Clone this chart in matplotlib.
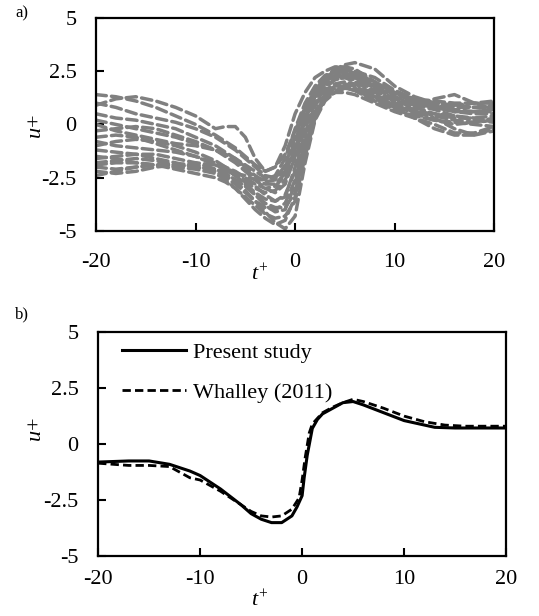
import matplotlib
matplotlib.use('Agg')
import matplotlib.pyplot as plt
import numpy as np

plt.rcParams['font.family'] = ['Liberation Serif', 'DejaVu Serif']
plt.rcParams['mathtext.fontset'] = 'custom'
plt.rcParams['mathtext.rm'] = 'Liberation Serif'
plt.rcParams['mathtext.it'] = 'Liberation Serif:italic'
plt.rcParams['axes.unicode_minus'] = False

# ---- panel a: individual events ----
t_events = [-20, -18, -16, -14, -12, -10, -8, -7, -6, -5, -4, -3, -2, -1,
            0, 1, 2, 3, 4, 5, 6, 8, 10, 12, 14, 16, 18, 20]
events = [
    [1.4, 1.3, 1.1, 0.8, 0.4, 0.0, -0.5, -0.8, -1.1, -1.5, -1.9, -2.2, -2.0, -1.0, 0.5, 1.5, 2.2, 2.5, 2.7, 2.7, 2.6, 2.0, 1.5, 1.1, 0.9, 0.8, 0.8, 0.9],
    [0.9, 1.2, 1.3, 1.1, 0.8, 0.4, -0.2, -0.1, -0.1, -0.6, -1.6, -2.2, -2.0, -1.4, -0.3, 0.8, 1.6, 2.1, 2.4, 2.5, 2.4, 2.0, 1.5, 1.1, 0.8, 0.6, 0.6, 0.7],
    [0.5, 0.3, 0.2, 0.0, -0.2, -0.6, -1.0, -1.3, -1.6, -2.0, -2.4, -2.7, -2.6, -1.9, -0.6, 0.7, 1.6, 2.2, 2.5, 2.6, 2.5, 2.2, 1.6, 1.2, 1.0, 0.9, 0.8, 0.8],
    [-0.3, -0.2, -0.1, -0.2, -0.5, -0.8, -1.2, -1.5, -1.8, -2.2, -2.6, -3.0, -3.2, -2.8, -1.5, 0.2, 1.4, 2.0, 2.3, 2.3, 2.2, 1.7, 1.2, 1.0, 0.8, 0.7, 0.6, 0.6],
    [-1.0, -0.8, -0.7, -0.8, -1.0, -1.3, -1.7, -2.0, -2.3, -2.6, -2.9, -3.3, -3.6, -3.4, -2.0, 0.0, 1.2, 1.8, 2.1, 2.2, 2.0, 1.5, 1.1, 0.9, 0.7, 0.4, 0.2, 0.1],
    [-1.6, -1.5, -1.4, -1.4, -1.6, -1.8, -2.1, -2.3, -2.6, -2.9, -3.3, -3.8, -4.1, -4.0, -2.8, -0.5, 0.9, 1.6, 1.9, 2.0, 1.9, 1.4, 1.0, 0.7, 0.4, 0.2, 0.1, 0.2],
    [-2.4, -2.2, -2.0, -1.9, -2.0, -2.1, -2.3, -2.6, -3.0, -3.5, -4.0, -4.4, -4.7, -4.5, -3.4, -1.0, 0.5, 1.3, 1.7, 1.8, 1.7, 1.3, 0.9, 0.5, 0.2, 0.0, 0.1, 0.3],
    [-2.0, -2.1, -2.0, -1.9, -1.9, -2.0, -2.2, -2.4, -2.7, -3.1, -3.6, -4.1, -4.6, -4.9, -4.3, -1.8, 0.2, 1.1, 1.5, 1.7, 1.6, 1.2, 0.8, 0.3, -0.2, -0.5, -0.5, -0.2],
    [-1.2, -1.3, -1.4, -1.6, -1.8, -2.0, -2.1, -2.2, -2.3, -2.4, -2.6, -2.8, -2.8, -2.3, -1.0, 0.5, 1.5, 2.1, 2.4, 2.5, 2.3, 1.8, 1.3, 1.0, 0.8, 0.9, 1.0, 1.0],
    [0.2, 0.0, -0.2, -0.4, -0.6, -0.9, -1.2, -1.4, -1.6, -1.9, -2.2, -2.5, -2.5, -2.0, -0.8, 0.6, 1.6, 2.2, 2.6, 2.8, 2.9, 2.6, 1.8, 1.3, 1.0, 0.9, 0.8, 0.7],
    [-0.6, -0.5, -0.6, -0.9, -1.2, -1.5, -1.9, -2.1, -2.4, -2.7, -3.0, -3.2, -3.1, -2.6, -1.6, -0.2, 1.0, 1.7, 2.1, 2.2, 2.1, 1.6, 1.1, 0.8, 0.5, 0.3, 0.3, 0.4],
    [-1.8, -1.7, -1.6, -1.7, -1.9, -2.0, -2.2, -2.5, -2.8, -3.2, -3.6, -3.9, -4.0, -3.7, -2.6, -0.8, 0.6, 1.4, 1.8, 1.9, 1.8, 1.3, 0.9, 0.6, 0.3, -0.2, -0.5, -0.3],
    [0.0, -0.3, -0.5, -0.7, -0.9, -1.0, -1.2, -1.4, -1.7, -2.1, -2.5, -2.6, -2.4, -1.6, -0.2, 1.0, 1.8, 2.3, 2.5, 2.6, 2.4, 1.9, 1.5, 1.2, 1.1, 1.0, 1.0, 1.1],
    [-1.5, -1.6, -1.8, -1.9, -1.9, -1.8, -1.9, -2.1, -2.4, -2.8, -3.2, -3.5, -3.6, -3.3, -2.2, -0.4, 0.9, 1.5, 1.8, 1.8, 1.6, 1.1, 0.8, 0.6, 0.5, 0.4, 0.3, 0.2],
    [-0.8, -1.0, -1.1, -1.2, -1.3, -1.5, -1.8, -2.0, -2.2, -2.5, -2.8, -3.0, -2.9, -2.4, -1.2, 0.3, 1.3, 1.9, 2.2, 2.3, 2.2, 1.7, 1.2, 0.9, 1.2, 1.4, 1.0, 0.7],
    [-2.2, -2.3, -2.2, -2.0, -1.9, -1.9, -2.1, -2.3, -2.6, -2.9, -3.3, -3.7, -3.9, -3.9, -3.2, -1.2, 0.4, 1.2, 1.5, 1.5, 1.4, 1.0, 0.6, 0.3, 0.0, -0.4, -0.4, -0.1],
    [1.0, 0.8, 0.5, 0.3, 0.1, -0.2, -0.6, -0.9, -1.2, -1.6, -2.0, -2.4, -2.5, -2.2, -1.2, 0.3, 1.4, 2.0, 2.3, 2.4, 2.3, 1.8, 1.4, 1.1, 0.8, 0.6, 0.5, 0.5],
    [-1.9, -1.8, -1.8, -1.9, -2.1, -2.3, -2.5, -2.7, -3.0, -3.4, -3.8, -4.2, -4.4, -4.3, -3.6, -1.5, 0.3, 1.2, 1.6, 1.7, 1.6, 1.1, 0.7, 0.4, 0.2, 0.1, 0.0, -0.1],
]

# ---- panel b: ensemble average vs. Whalley (2011) ----
t_present = [-20, -17, -15, -13, -11, -10, -8, -6, -5, -4, -3, -2, -1, -0.5,
             0, 0.2, 0.5, 1, 1.5, 2, 3, 4, 5, 6, 8, 10, 12, 13, 15, 20]
u_present = [-0.8, -0.75, -0.75, -0.9, -1.2, -1.4, -2.0, -2.7, -3.1, -3.35, -3.5, -3.5, -3.2, -2.8,
             -2.3, -1.5, -0.5, 0.7, 1.1, 1.35, 1.6, 1.85, 1.9, 1.75, 1.4, 1.05, 0.85, 0.75, 0.72, 0.72]
t_whalley = [-20, -17, -15, -13, -11, -10, -8, -6, -5, -4, -3, -2, -1, -0.3,
             0, 0.3, 0.7, 1, 2, 3, 4, 5, 6, 8, 10, 12, 14, 16, 20]
u_whalley = [-0.85, -0.95, -0.95, -1.0, -1.5, -1.6, -2.1, -2.7, -3.0, -3.2, -3.25, -3.2, -2.9, -2.4,
             -1.6, -0.6, 0.5, 0.9, 1.4, 1.65, 1.85, 2.0, 1.9, 1.6, 1.25, 1.0, 0.85, 0.8, 0.8]

xticks = [-20, -10, 0, 10, 20]
yticks = [-5, -2.5, 0, 2.5, 5]
yticklabels = ['-5', '-2.5', '0', '2.5', '5']

fig = plt.figure(figsize=(5.39, 6.16), dpi=100)
ax1 = fig.add_axes([0.178, 0.625, 0.739, 0.346])
ax2 = fig.add_axes([0.182, 0.097, 0.757, 0.364])

for u in events:
    ax1.plot(t_events, u, color='#808080', lw=2.5, ls=(0, (3, 1.5)),
             dash_capstyle='round')

ax2.plot(t_present, u_present, color='black', lw=2.2, label='Present study')
ax2.plot(t_whalley, u_whalley, color='black', lw=2.0, ls=(0, (3, 1.5)),
         label='Whalley (2011)')
ax2.legend(loc='upper left', bbox_to_anchor=(0.02, 1.022), frameon=False,
           fontsize=16, handlelength=2.9, handletextpad=0.3,
           labelspacing=0.85, borderaxespad=0.3)

for ax, pad in ((ax1, 16), (ax2, 10)):
    ax.set_xlim(-20, 20)
    ax.set_ylim(-5, 5)
    ax.set_xticks(xticks)
    ax.set_yticks(yticks)
    ax.set_yticklabels(yticklabels)
    ax.tick_params(direction='in', length=6, width=1.5, labelsize=16, top=False, right=False)
    ax.tick_params(axis='x', pad=pad)
    ax.tick_params(axis='y', pad=14)
    for s in ax.spines.values():
        s.set_linewidth(1.6)

fig.text(0.482, 0.553, '$t^{+}$', fontsize=16, ha='center', va='center')
fig.text(0.482, 0.025, '$t^{+}$', fontsize=16, ha='center', va='center')
fig.text(0.068, 0.795, '$u$+', fontsize=16, ha='center', va='center', rotation=90)
fig.text(0.068, 0.302, '$u$+', fontsize=16, ha='center', va='center', rotation=90)
fig.text(0.028, 0.978, 'a)', fontsize=12, ha='left', va='center')
fig.text(0.028, 0.489, 'b)', fontsize=12, ha='left', va='center')

fig.savefig('out.png', dpi=100)
